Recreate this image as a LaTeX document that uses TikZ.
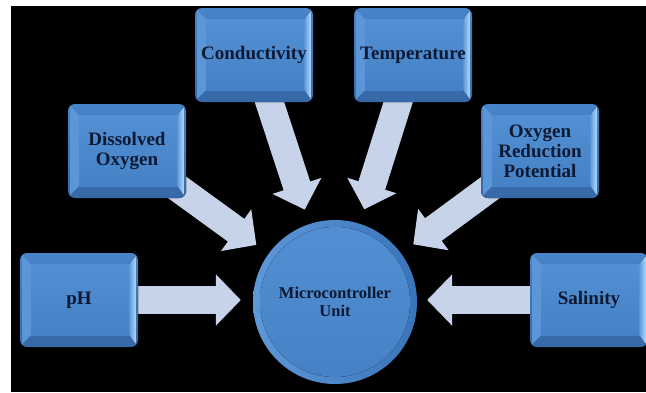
\documentclass[tikz,border=0pt]{standalone}
\usepackage{fontspec}
\setmainfont{Liberation Serif}
\usetikzlibrary{arrows.meta}
\definecolor{rimtop}{HTML}{4884C8}
\definecolor{rimbot}{HTML}{3768A8}
\definecolor{bevleft}{HTML}{5B97D8}
\definecolor{hilite}{HTML}{B0DAFA}
\definecolor{facetop}{HTML}{5290D3}
\definecolor{facebot}{HTML}{4581C5}
\definecolor{hubleft}{HTML}{5D98D9}
\definecolor{hubright}{HTML}{3A74B8}
\definecolor{inkblue}{HTML}{0D1933}
\definecolor{flow}{HTML}{C6D3E9}
\pgfdeclarelayer{back}
\pgfsetlayers{back,main}
\tikzset{>={Triangle[width=50pt,length=25pt]}}
\tikzset{
    sensortext/.style={rectangle,minimum width=118pt,minimum height=94pt,inner sep=0pt,
        align=center,text=inkblue,font=\fontsize{19}{20}\selectfont\bfseries},
    hub/.style={circle,minimum size=164pt,inner sep=0pt,left color=hubleft,right color=hubright,
        align=center,text=inkblue,font=\fontsize{16.5}{18}\selectfont\bfseries,
        path picture={\fill[top color=facetop,bottom color=facebot]
            (path picture bounding box.center) circle (75pt);}},
    flowarrow/.style={draw=flow,line width=28pt,->,shorten >=15pt}
}
% bevelled box: name, x, y, text
\newcommand\sensor[4]{
    \fill[rounded corners=7pt,top color=rimtop,bottom color=rimbot] (#2-59,#3-47) rectangle (#2+59,#3+47);
    \fill[bevleft] (#2-57,#3-45) -- (#2-48,#3-36) -- (#2-48,#3+35) -- (#2-57,#3+44) -- cycle;
    \fill[left color=bevleft,right color=hilite] (#2+50,#3-36) -- (#2+57,#3-44) -- (#2+57,#3+44) -- (#2+50,#3+35) -- cycle;
    \fill[top color=facetop,bottom color=facebot] (#2-48,#3-36) rectangle (#2+50,#3+35);
    \node[sensortext] (#1) at (#2,#3) {#4};
}

\begin{document}
\begin{tikzpicture}[x=1pt,y=-1pt]
    \useasboundingbox (0,0) rectangle (646,392);
    \begin{pgfonlayer}{back}
        \fill[white] (0,0) rectangle (646,392);
        \fill[black] (11,6) rectangle (646,392);
    \end{pgfonlayer}
    \sensor{ph}{79}{300}{pH}
    \sensor{sal}{589}{300}{Salinity}
    \sensor{dox}{127}{151}{Dissolved\\Oxygen}
    \sensor{orp}{540}{151}{Oxygen\\Reduction\\Potential}
    \sensor{cond}{254}{55}{Conductivity}
    \sensor{temp}{413}{55}{Temperature}
    \node[hub] (mcu) at (335,302) {Microcontroller\\Unit};
    \begin{pgfonlayer}{back}
        \draw[flowarrow,shorten >=12pt] (ph) -- (ph -| mcu.west);
        \draw[flowarrow,shorten >=10pt] (sal) -- (sal -| mcu.east);
        \draw[flowarrow] (dox.center) -- (mcu);
        \draw[flowarrow] (orp.center) -- (mcu);
        \draw[flowarrow] (cond.center) -- (mcu);
        \draw[flowarrow] (temp.center) -- (mcu);
    \end{pgfonlayer}
\end{tikzpicture}
\end{document}
